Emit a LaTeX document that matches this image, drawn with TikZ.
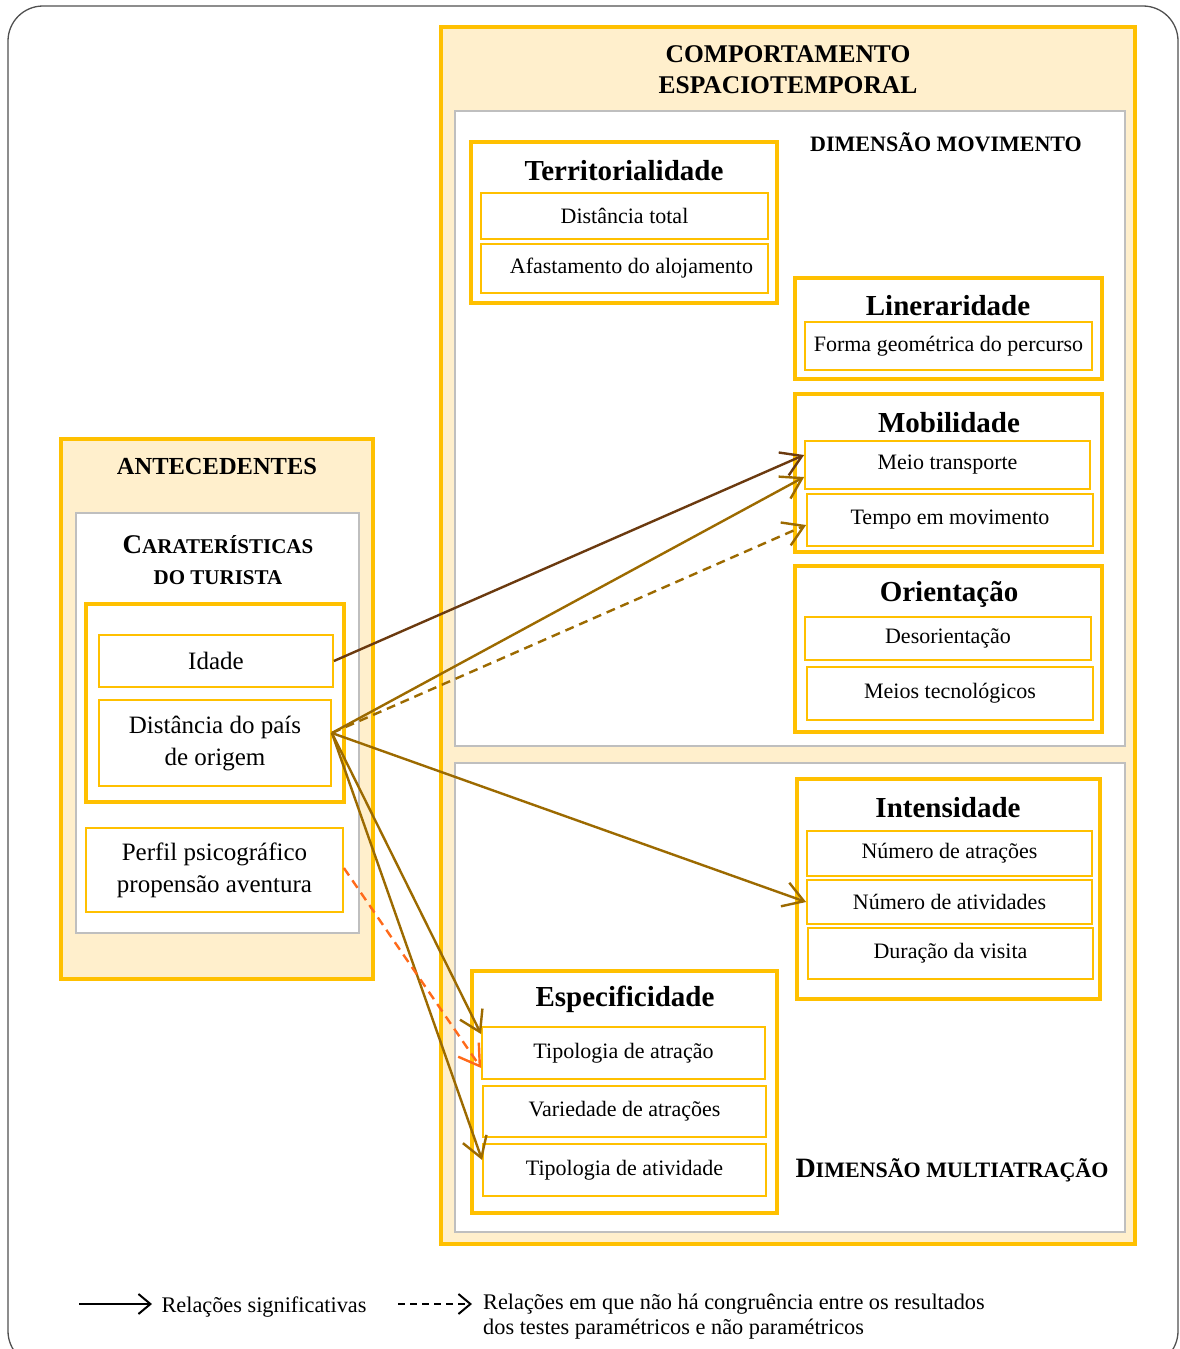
\documentclass[tikz,border=0pt]{standalone}
\usepackage{fontspec}
\setmainfont{Liberation Serif}
\usetikzlibrary{arrows.meta}
\definecolor{gold}{HTML}{FFC000}
\definecolor{peach}{HTML}{FFEFCC}
\definecolor{silver}{HTML}{BFBFBF}
\definecolor{frameline}{HTML}{505050}
\definecolor{umber}{HTML}{6B3A0F}
\definecolor{ochre}{HTML}{9C6A00}
\definecolor{tangerine}{HTML}{FF6A1A}

\begin{document}
\begin{tikzpicture}[x=1pt,y=-1pt,sz/.style 2 args={minimum width=#1pt,minimum height=#2pt},panel/.style={draw=gold,line width=4pt,fill=peach,inner sep=0pt},dimbox/.style={draw=silver,line width=2pt,fill=white,inner sep=0pt},catbox/.style={draw=gold,line width=3.5pt,fill=white,inner sep=0pt},itembox/.style={draw=gold,line width=1.8pt,fill=white,inner sep=0pt,align=center,font=\fontsize{22}{25}\selectfont},bigitem/.style={itembox,font=\fontsize{25}{32}\selectfont},head/.style={font=\bfseries\fontsize{29}{32}\selectfont},caps/.style={font=\bfseries\fontsize{24.5}{31}\selectfont,align=center},rel/.style={-{Straight Barb[length=20pt,width=25pt]},line width=2.4pt,draw=ochre},weak/.style={rel,dash pattern=on 9pt off 6pt},key/.style={-{Straight Barb[length=12pt,width=20pt]},line width=2pt,draw=black},keytext/.style={font=\fontsize{22.3}{25}\selectfont,align=left}]
\useasboundingbox (0,0) rectangle (1179,1349);
\clip (0,0) rectangle (1179,1349);
\draw[frameline,line width=1.3pt,rounded corners=35pt] (8,6) rectangle (1178,1366);

\node[panel,sz={694}{1217}] (comp) at (788,635.5) {};
\node[caps,font=\bfseries\fontsize{25.5}{31}\selectfont] (compT) at (788,70) {COMPORTAMENTO\\ESPACIOTEMPORAL};
\node[dimbox,sz={670}{635}] (mov) at (790,428.5) {};
\node[dimbox,sz={670}{469}] (multi) at (790,997.5) {};
\node[caps,font=\bfseries\fontsize{22}{26}\selectfont] (movT) at (946,142) {DIMENSÃO MOVIMENTO};
\node[caps] (multiT) at (952,1170) {{\fontsize{28}{30}\selectfont D}{\fontsize{22}{26}\selectfont IMENSÃO MULTIATRAÇÃO}};

\node[catbox,sz={306}{161}] (terr) at (624,222.5) {};
\node[head] (terrT) at (624,171) {Territorialidade};
\node[itembox,sz={287}{46}] (dist) at (624.5,216) {Distância total};
\node[itembox,sz={287}{49}] (afast) at (624.5,268.5) {\hspace{14pt}Afastamento do alojamento};

\node[catbox,sz={307}{101}] (lin) at (948.5,328.5) {};
\node[head] (linT) at (948,306) {Lineraridade};
\node[itembox,sz={287}{48}] (forma) at (948.5,346) {Forma geométrica do percurso};

\node[catbox,sz={307}{158}] (mob) at (948.5,473) {};
\node[head] (mobT) at (949,423) {Mobilidade};
\node[itembox,sz={285}{48}] (meio) at (947.5,465) {Meio transporte};
\node[itembox,sz={286}{52}] (tempo) at (950,520) {Tempo em movimento};

\node[catbox,sz={307}{166}] (ori) at (948.5,649) {};
\node[head] (oriT) at (949,594) {Orientação};
\node[itembox,sz={286}{43}] (desor) at (948,638.5) {Desorientação};
\node[itembox,sz={286}{53}] (meios) at (950,693.5) {Meios tecnológicos};

\node[catbox,sz={303}{220}] (inten) at (948.5,889) {};
\node[head] (intenT) at (948,808) {Intensidade};
\node[itembox,sz={285}{45}] (natr) at (949.5,853.5) {Número de atrações};
\node[itembox,sz={285}{44}] (nativ) at (949.5,902) {Número de atividades};
\node[itembox,sz={285}{51}] (dur) at (950.5,953.5) {Duração da visita};

\node[catbox,sz={305}{242}] (esp) at (624.5,1092) {};
\node[head] (espT) at (625,999) {Especificidade};
\node[itembox,sz={283}{52}] (tatr) at (623.5,1053) {Tipologia de atração};
\node[itembox,sz={283}{51}] (var) at (624.5,1111.5) {Variedade de atrações};
\node[itembox,sz={283}{52}] (tativ) at (624.5,1170) {Tipologia de atividade};

\node[panel,sz={312}{540}] (ante) at (217,709) {};
\node[caps] (anteT) at (217,467) {ANTECEDENTES};
\node[dimbox,sz={283}{420}] (car) at (217.5,723) {};
\node[caps] (carT) at (218,560) {{\fontsize{27}{31}\selectfont C}{\fontsize{21}{31}\selectfont ARATERÍSTICAS}\\{\fontsize{21}{31}\selectfont DO TURISTA}};
\node[catbox,sz={258}{198}] (tur) at (215,703) {};
\node[bigitem,sz={234}{52}] (idade) at (216,661) {Idade};
\node[bigitem,sz={232}{86}] (dpais) at (215,743) {Distância do país\\de origem};
\node[bigitem,sz={257}{84}] (perfil) at (214.5,870) {Perfil psicográfico\\propensão aventura};

\coordinate (dp) at ([yshift=10pt]dpais.east);
\draw[rel,draw=umber] (idade.east) -- ([yshift=10pt]meio.west);
\draw[rel] (dp) -- ([yshift=-12pt]meio.west);
\draw[weak] (dp) -- ([yshift=-5pt]tempo.west);
\draw[rel] (dp) -- (nativ.west);
\draw[rel] (dp) -- ([yshift=-8pt]tatr.north west);
\draw[rel] (dp) -- ([yshift=10pt]tativ.west);
\draw[weak,draw=tangerine] ([yshift=2pt]perfil.east) -- ([yshift=-15pt]tatr.west);

\coordinate (sigA) at (79,1304);\coordinate (sigB) at (152,1304);
\coordinate (incA) at (398,1304);\coordinate (incB) at (472,1304);
\draw[key] (sigA) -- (sigB);
\draw[key,dash pattern=on 7pt off 5pt] (incA) -- (incB);
\node[keytext,anchor=west] (sigT) at (158,1307) {Relações significativas};
\node[keytext,anchor=north west,inner sep=0pt] (incT) at (483,1294) {Relações em que não há congruência entre os resultados\\dos testes paramétricos e não paramétricos};
\end{tikzpicture}
\end{document}
